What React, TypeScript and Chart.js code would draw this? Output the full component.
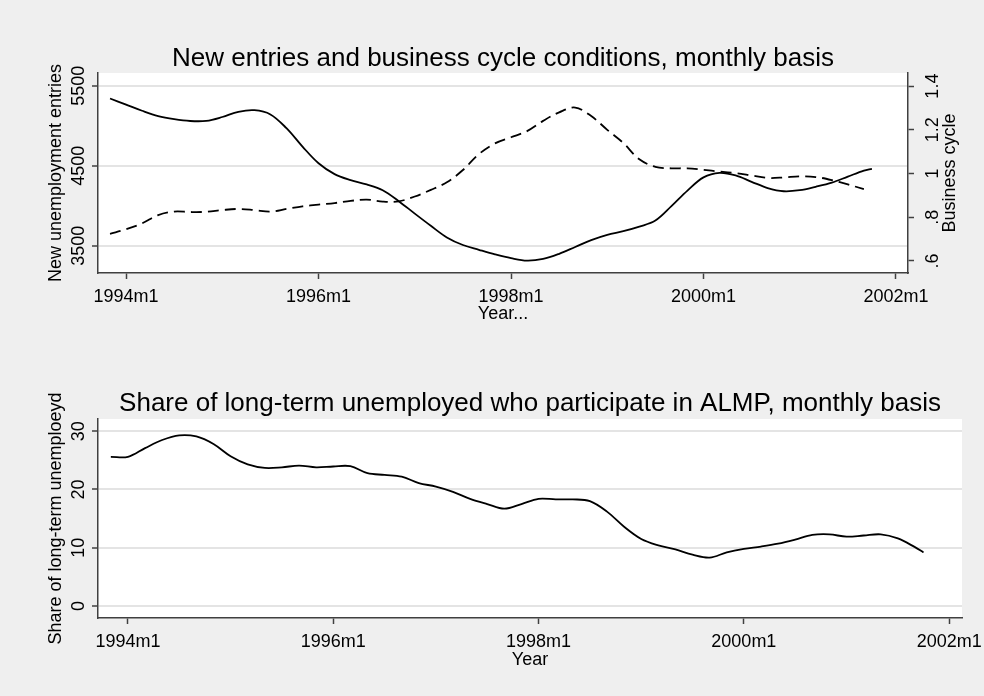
import React, { useEffect, useRef } from 'react';
import { Chart, registerables } from 'chart.js';

Chart.register(...registerables);

// months since 1994m1
const ENTRY_MONTHS = [-2, 0, 2, 4, 6, 8, 10, 12, 14, 16, 18, 20, 22, 24, 26, 28, 30, 32, 34, 36, 38, 40, 42, 44, 46, 48, 50, 52, 54, 56, 58, 60, 62, 64, 66, 68, 70, 72, 74, 76, 78, 80, 82, 84, 86, 88, 90, 92, 93];
const ENTRIES = [5341, 5265, 5188, 5122, 5083, 5060, 5062, 5110, 5175, 5195, 5142, 4970, 4740, 4532, 4396, 4321, 4268, 4195, 4058, 3902, 3750, 3605, 3510, 3450, 3393, 3345, 3314, 3336, 3400, 3485, 3572, 3638, 3683, 3740, 3815, 3995, 4190, 4355, 4412, 4380, 4300, 4222, 4182, 4195, 4238, 4290, 4365, 4440, 4463];

const CYCLE_MONTHS = [-2, 0, 2, 4, 6, 8, 10, 12, 14, 16, 18, 20, 22, 24, 26, 28, 30, 32, 34, 36, 38, 40, 42, 44, 46, 48, 50, 52, 54, 56, 58, 60, 62, 64, 66, 68, 70, 72, 74, 76, 78, 80, 82, 84, 86, 88, 90, 92];
const CYCLE = [0.724, 0.745, 0.772, 0.81, 0.826, 0.824, 0.825, 0.833, 0.838, 0.833, 0.826, 0.838, 0.85, 0.858, 0.865, 0.875, 0.881, 0.872, 0.873, 0.895, 0.925, 0.96, 1.016, 1.089, 1.138, 1.166, 1.194, 1.241, 1.28, 1.302, 1.263, 1.2, 1.14, 1.065, 1.031, 1.024, 1.024, 1.017, 1.009, 1.002, 0.991, 0.98, 0.982, 0.987, 0.984, 0.97, 0.95, 0.929];

const SHARE_MONTHS = [-2, 0, 2, 4, 6, 8, 10, 12, 14, 16, 18, 20, 22, 24, 26, 28, 30, 32, 34, 36, 38, 40, 42, 44, 46, 48, 50, 52, 54, 56, 58, 60, 62, 64, 66, 68, 70, 72, 74, 76, 78, 80, 82, 84, 86, 88, 90, 92, 93];
const SHARE = [25.6, 25.6, 27.1, 28.5, 29.3, 29.1, 27.8, 25.7, 24.3, 23.7, 23.8, 24.1, 23.8, 23.95, 24.0, 22.8, 22.5, 22.2, 21.1, 20.5, 19.6, 18.4, 17.5, 16.7, 17.5, 18.4, 18.3, 18.3, 18.0, 16.2, 13.6, 11.5, 10.4, 9.7, 8.8, 8.3, 9.2, 9.8, 10.2, 10.7, 11.4, 12.2, 12.3, 11.9, 12.1, 12.3, 11.6, 10.1, 9.2];

const X_TICKS = [0, 24, 48, 72, 96];
const X_TICK_LABELS = ['1994m1', '1996m1', '1998m1', '2000m1', '2002m1'];
const ENTRY_TICKS = [3500, 4500, 5500];
const ENTRY_TICK_LABELS = ['3500', '4500', '5500'];
const CYCLE_TICKS = [0.6, 0.8, 1, 1.2, 1.4];
const CYCLE_TICK_LABELS = ['.6', '.8', '1', '1.2', '1.4'];
const SHARE_TICKS = [0, 10, 20, 30];
const SHARE_TICK_LABELS = ['0', '10', '20', '30'];

const FONT = '"Liberation Sans", Arial, sans-serif';
const AXIS = '#404040';
const GRID = '#e4e4e4';
const BG = '#efefef';

function drawUp(ctx: CanvasRenderingContext2D, text: string, x: number, y: number) {
  ctx.save();
  ctx.translate(x, y);
  ctx.rotate(-Math.PI / 2);
  ctx.textAlign = 'center';
  ctx.textBaseline = 'alphabetic';
  ctx.fillText(text, 0, 0);
  ctx.restore();
}

const bgPlugin = {
  id: 'plotbg',
  beforeDraw(chart: any) {
    const { ctx, chartArea: ca } = chart;
    ctx.save();
    ctx.fillStyle = '#ffffff';
    ctx.fillRect(ca.left, ca.top, ca.right - ca.left, ca.bottom - ca.top);
    ctx.restore();
  },
};

function textPlugin(cfg: any) {
  return {
    id: 'texts',
    afterDraw(chart: any) {
      const ctx: CanvasRenderingContext2D = chart.ctx;
      const ca = chart.chartArea;
      const cx = (ca.left + ca.right) / 2;
      const cy = (ca.top + ca.bottom) / 2;
      ctx.save();
      ctx.fillStyle = '#000';
      ctx.textAlign = 'center';
      ctx.textBaseline = 'alphabetic';
      ctx.font = `26px ${FONT}`;
      ctx.fillText(cfg.title, cx, cfg.titleY);
      ctx.font = `18px ${FONT}`;
      const xs = chart.scales.x;
      xs.ticks.forEach((t: any, i: number) => {
        ctx.fillText(X_TICK_LABELS[i], xs.getPixelForValue(t.value), cfg.xLabelY);
      });
      ctx.fillText(cfg.xTitle, cx, cfg.xTitleY);
      const ys = chart.scales.y;
      ys.ticks.forEach((t: any, i: number) => {
        drawUp(ctx, cfg.yLabels[i], cfg.yLabelX, ys.getPixelForValue(t.value));
      });
      drawUp(ctx, cfg.yTitle, cfg.yTitleX, cy);
      if (cfg.y1Labels) {
        const y1 = chart.scales.y1;
        y1.ticks.forEach((t: any, i: number) => {
          drawUp(ctx, cfg.y1Labels[i], cfg.y1LabelX, y1.getPixelForValue(t.value));
        });
        drawUp(ctx, cfg.y1Title, cfg.y1TitleX, cy);
      }
      ctx.restore();
    },
  };
}

function xScale(height: number) {
  return {
    type: 'linear',
    position: 'bottom',
    min: -3.5,
    max: 97.5,
    afterBuildTicks: (s: any) => { s.ticks = X_TICKS.map((v) => ({ value: v })); },
    afterFit: (s: any) => { s.height = height; },
    ticks: { display: false },
    grid: { drawOnChartArea: false, drawTicks: true, tickLength: 6, tickColor: AXIS, tickWidth: 1.5, color: AXIS },
    border: { display: true, color: AXIS, width: 1.5 },
  };
}

export default function App() {
  const topRef = useRef<HTMLCanvasElement>(null);
  const botRef = useRef<HTMLCanvasElement>(null);

  useEffect(() => {
    const top = new Chart(topRef.current as HTMLCanvasElement, {
      type: 'line',
      data: {
        datasets: [
          {
            data: ENTRY_MONTHS.map((m, i) => ({ x: m, y: ENTRIES[i] })),
            yAxisID: 'y',
            borderColor: '#000',
            borderWidth: 1.8,
            pointRadius: 0,
            tension: 0.35,
            fill: false,
          },
          {
            data: CYCLE_MONTHS.map((m, i) => ({ x: m, y: CYCLE[i] })),
            yAxisID: 'y1',
            borderColor: '#000',
            borderWidth: 1.8,
            borderDash: [11, 6],
            pointRadius: 0,
            tension: 0.35,
            fill: false,
          },
        ],
      },
      options: {
        responsive: false,
        maintainAspectRatio: false,
        animation: false,
        devicePixelRatio: 1,
        layout: { padding: { top: 73, left: 0, right: 0, bottom: 0 } },
        plugins: { legend: { display: false }, title: { display: false }, tooltip: { enabled: false } },
        scales: {
          x: xScale(75),
          y: {
            type: 'linear',
            position: 'left',
            min: 3160,
            max: 5660,
            afterBuildTicks: (s: any) => { s.ticks = ENTRY_TICKS.map((v) => ({ value: v })); },
            afterFit: (s: any) => { s.width = 98; },
            ticks: { display: false },
            grid: { color: GRID, lineWidth: 2, drawTicks: true, tickLength: 6, tickColor: AXIS, tickWidth: 1.5 },
            border: { display: true, color: AXIS, width: 1.5 },
          },
          y1: {
            type: 'linear',
            position: 'right',
            min: 0.545,
            max: 1.46,
            afterBuildTicks: (s: any) => { s.ticks = CYCLE_TICKS.map((v) => ({ value: v })); },
            afterFit: (s: any) => { s.width = 76; },
            ticks: { display: false },
            grid: { drawOnChartArea: false, drawTicks: true, tickLength: 6, tickColor: AXIS, tickWidth: 1.5, color: AXIS },
            border: { display: true, color: AXIS, width: 1.5 },
          },
        },
      } as any,
      plugins: [
        bgPlugin,
        textPlugin({
          title: 'New entries and business cycle conditions, monthly basis',
          titleY: 66,
          xLabelY: 302,
          xTitle: 'Year...',
          xTitleY: 319,
          yLabels: ENTRY_TICK_LABELS,
          yLabelX: 83.5,
          yTitle: 'New unemployment entries',
          yTitleX: 61,
          y1Labels: CYCLE_TICK_LABELS,
          y1LabelX: 937.5,
          y1Title: 'Business cycle',
          y1TitleX: 955,
        }),
      ],
    } as any);

    const bot = new Chart(botRef.current as HTMLCanvasElement, {
      type: 'line',
      data: {
        datasets: [
          {
            data: SHARE_MONTHS.map((m, i) => ({ x: m, y: SHARE[i] })),
            yAxisID: 'y',
            borderColor: '#000',
            borderWidth: 1.8,
            pointRadius: 0,
            tension: 0.35,
            fill: false,
          },
        ],
      },
      options: {
        responsive: false,
        maintainAspectRatio: false,
        animation: false,
        devicePixelRatio: 1,
        layout: { padding: { top: 71, left: 0, right: 22, bottom: 0 } },
        plugins: { legend: { display: false }, title: { display: false }, tooltip: { enabled: false } },
        scales: {
          x: xScale(78),
          y: {
            type: 'linear',
            position: 'left',
            min: -2.06,
            max: 32.1,
            afterBuildTicks: (s: any) => { s.ticks = SHARE_TICKS.map((v) => ({ value: v })); },
            afterFit: (s: any) => { s.width = 98; },
            ticks: { display: false },
            grid: { color: GRID, lineWidth: 2, drawTicks: true, tickLength: 6, tickColor: AXIS, tickWidth: 1.5 },
            border: { display: true, color: AXIS, width: 1.5 },
          },
        },
      } as any,
      plugins: [
        bgPlugin,
        textPlugin({
          title: 'Share of long-term unemployed who participate in ALMP, monthly basis',
          titleY: 62.7,
          xLabelY: 298.7,
          xTitle: 'Year',
          xTitleY: 317,
          yLabels: SHARE_TICK_LABELS,
          yLabelX: 83.5,
          yTitle: 'Share of long-term unemploeyd',
          yTitleX: 61,
        }),
      ],
    } as any);

    return () => {
      top.destroy();
      bot.destroy();
    };
  }, []);

  return (
    <div style={{ position: 'absolute', left: 0, top: 0, width: 984, height: 696, background: BG, overflow: 'hidden' }}>
      <canvas ref={topRef} width={984} height={348} style={{ position: 'absolute', left: 0, top: 0, width: 984, height: 348, display: 'block' }} />
      <canvas ref={botRef} width={984} height={348} style={{ position: 'absolute', left: 0, top: 348, width: 984, height: 348, display: 'block' }} />
    </div>
  );
}
